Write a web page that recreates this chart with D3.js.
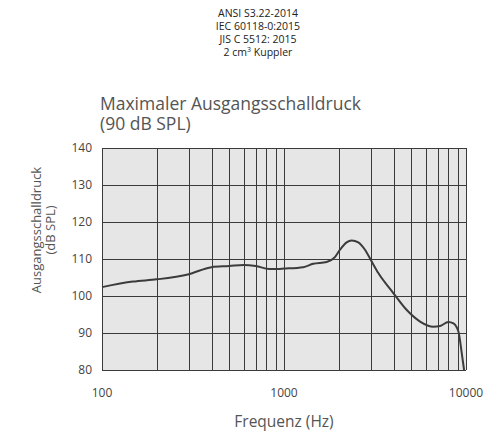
<!DOCTYPE html>
<html>
<head>
<meta charset="utf-8">
<script src="https://cdn.jsdelivr.net/npm/d3@7"></script>
<style>
  body { margin: 0; background: #fff; }
  svg { font-family: "Open Sans", sans-serif; }
</style>
</head>
<body>
<svg width="485" height="434"></svg>
<script>
'use strict';

var headerLines = ['ANSI S3.22-2014', 'IEC 60118-0:2015', 'JIS C 5512: 2015'];
var freqs = [100, 148, 200, 300, 400, 500, 600, 700, 830, 920, 1000, 1275, 1447, 1715, 1905, 2030, 2208, 2354, 2560, 2786, 3033, 3298, 3987, 4726, 5592, 6619, 7205, 8000, 8530, 9085, 9480, 9760];
var levels = [102.4, 103.9, 104.5, 105.9, 107.8, 108.1, 108.4, 108.1, 107.3, 107.3, 107.4, 107.8, 108.7, 109.2, 110.5, 112.5, 114.5, 115.0, 114.5, 112.5, 109.3, 106.2, 100.8, 96.2, 93.1, 91.7, 91.9, 93.0, 92.6, 90.4, 84.5, 80];
var yTicks = [80, 90, 100, 110, 120, 130, 140];
var xTickLabels = [100, 1000, 10000];

(() => {
var svg = d3.select('svg');
var pl = 102, pr = 466, pt = 148, pb = 370;

var x = d3.scaleLog().domain([100, 10000]).range([pl, pr]);
var y = d3.scaleLinear().domain([80, 140]).range([pb, pt]);

// header, one text per line
headerLines.forEach((t, i) => {
  svg.append('text')
    .attr('x', 258).attr('y', 17 + i * 13)
    .attr('text-anchor', 'middle')
    .attr('font-size', 10.5).attr('fill', '#222')
    .text(t);
});
var last = svg.append('text')
  .attr('x', 258).attr('y', 17 + 3 * 13)
  .attr('text-anchor', 'middle')
  .attr('font-size', 10.5).attr('fill', '#222');
last.append('tspan').text('2 cm');
last.append('tspan').attr('font-size', 7).attr('dy', -4).text('3');
last.append('tspan').attr('dy', 4).text(' Kuppler');

// chart title
svg.append('text').attr('x', pl - 2).attr('y', 110)
  .attr('font-size', 17.5).attr('fill', '#555')
  .text('Maximaler Ausgangsschalldruck');
svg.append('text').attr('x', pl - 2).attr('y', 130)
  .attr('font-size', 17.5).attr('fill', '#555')
  .text('(90 dB SPL)');

// plot background
svg.append('rect')
  .attr('x', pl).attr('y', pt)
  .attr('width', pr - pl).attr('height', pb - pt)
  .attr('fill', '#e6e6e7');

// grid
var grid = svg.append('g').attr('stroke', '#3a3a3a').attr('stroke-width', 1);
grid.selectAll('.v').data(x.ticks()).join('line')
  .attr('x1', d => Math.round(x(d)) + 0.5).attr('x2', d => Math.round(x(d)) + 0.5)
  .attr('y1', pt).attr('y2', pb);
grid.selectAll('.h').data(yTicks).join('line')
  .attr('x1', pl).attr('x2', pr)
  .attr('y1', d => Math.round(y(d)) + 0.5).attr('y2', d => Math.round(y(d)) + 0.5);

// curve
var pts = freqs.map((f, i) => [f, levels[i]]);
svg.append('path')
  .datum(pts)
  .attr('fill', 'none')
  .attr('stroke', '#3b3b3b')
  .attr('stroke-width', 2)
  .attr('d', d3.line().x(d => x(d[0])).y(d => y(d[1])).curve(d3.curveMonotoneX));

// y tick labels
svg.append('g').selectAll('text').data(yTicks).join('text')
  .attr('x', 92).attr('y', d => y(d) + 4)
  .attr('text-anchor', 'end')
  .attr('font-size', 12).attr('fill', '#444')
  .text(d => d);

// x tick labels
svg.append('g').selectAll('text').data(xTickLabels).join('text')
  .attr('x', d => x(d)).attr('y', 397)
  .attr('text-anchor', 'middle')
  .attr('font-size', 12).attr('fill', '#444')
  .text(d => d);

// axis titles
svg.append('text').attr('x', 284).attr('y', 427)
  .attr('text-anchor', 'middle').attr('font-size', 15.5).attr('fill', '#555')
  .text('Frequenz (Hz)');
var yt = svg.append('text')
  .attr('transform', 'translate(41,230) rotate(-90)')
  .attr('text-anchor', 'middle').attr('font-size', 13).attr('fill', '#555');
yt.append('tspan').attr('x', 0).attr('y', 0).text('Ausgangsschalldruck');
yt.append('tspan').attr('x', 0).attr('y', 14).text('(dB SPL)');
})();
</script>
</body>
</html>
